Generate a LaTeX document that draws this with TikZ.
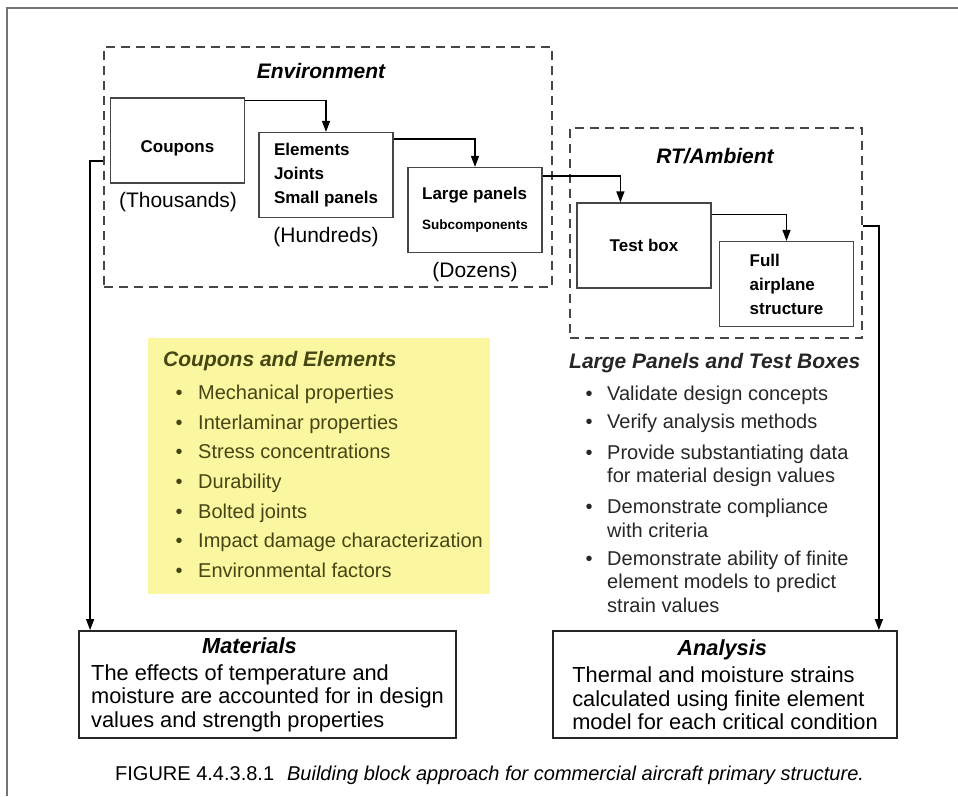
\documentclass[tikz,border=0pt]{standalone}
\usepackage{fontspec}
\setmainfont{Liberation Sans}
\usetikzlibrary{arrows.meta,calc}
\definecolor{boxgray}{RGB}{70,70,70}
\definecolor{notefill}{RGB}{250,247,160}
\definecolor{notetext}{RGB}{70,70,20}

\begin{document}
\begin{tikzpicture}[x=1pt,y=-1pt,
    stage/.style={draw=boxgray, line width=1.2pt, minimum width=134pt, minimum height=85pt,
      inner sep=0pt, align=left, font=\bfseries\fontsize{17}{24}\selectfont},
    zone/.style={draw=boxgray, line width=1.5pt, dash pattern=on 9pt off 6pt, inner sep=0pt},
    heading/.style={font=\bfseries\itshape\fontsize{21}{24}\selectfont},
    count/.style={font=\fontsize{21}{24}\selectfont},
    result/.style={draw=black!85, line width=1.8pt, minimum height=107pt, inner sep=0pt,
      align=left, font=\fontsize{21.8}{23.3}\selectfont},
    feed/.style={line width=1.3pt, -{Triangle[length=11pt,width=8pt]}}]
    \useasboundingbox (0,0) rectangle (958,796);
    \draw[line width=2pt, black!55] (7,796) -- (7,8) -- (958,8);

    % test zones
    \node[zone, minimum width=448pt, minimum height=240pt] (env) at (328,167) {};
    \node[zone, minimum width=292pt, minimum height=210pt] (rt) at (716,233) {};
    \node[heading] (envtitle) at (321,71) {Environment};
    \node[heading] (rttitle) at (715,156) {RT/Ambient};

    % building blocks
    \node[stage, text height=23pt, text depth=0pt] (coupons) at (177.5,140.5) {Coupons};
    \node[stage] (elements) at (326,175) {Elements\\Joints\\Small panels};
    \node[stage] (large) at (475,210) {Large panels\\[6pt]{\fontsize{13.5}{16}\selectfont Subcomponents}};
    \node[stage] (testbox) at (644,245.5) {Test box};
    \node[stage] (full) at (786.5,284) {Full\\airplane\\structure};
    \node[count] (thousands) at (178,202) {(Thousands)};
    \node[count] (hundreds) at (326,237) {(Hundreds)};
    \node[count] (dozens) at (475,272) {(Dozens)};

    \draw[feed] ($(coupons.north east)+(0,3)$) -| (elements.north);
    \draw[feed] ($(elements.north east)+(0,7)$) -| (large.north);
    \draw[feed] ($(large.north east)+(0,9)$) -| ($(testbox.north west)+(44,0)$);
    \draw[feed] ($(testbox.north east)+(0,12)$) -| (full.north);

    % notes
    \node[fill=notefill, minimum width=342pt, minimum height=256pt, inner sep=0pt, text=notetext,
      font=\fontsize{20}{29.6}\selectfont] (coupnotes) at (319,466) {%
      \begin{tabular}{@{\hspace{20.5pt}}l@{\hspace{15.5pt}}l@{}}
        \multicolumn{2}{@{\hspace{8pt}}l@{}}{\bfseries\itshape\fontsize{21}{29.6}\selectfont Coupons and Elements}\\[3.4pt]
        \textbullet & Mechanical properties\\
        \textbullet & Interlaminar properties\\
        \textbullet & Stress concentrations\\
        \textbullet & Durability\\
        \textbullet & Bolted joints\\
        \textbullet & Impact damage characterization\\
        \textbullet & Environmental factors
      \end{tabular}};
    \node[anchor=base west, inner sep=0pt, text=black!85,
      font=\fontsize{20}{23.5}\selectfont] (panelnotes) at (569,368) {%
      \begin{tabular}[t]{@{\hspace{16.5pt}}l@{\hspace{14.5pt}}l@{}}
        \multicolumn{2}{@{}l@{}}{\bfseries\itshape\fontsize{21}{23.5}\selectfont Large Panels and Test Boxes}\\[8.5pt]
        \textbullet & Validate design concepts\\[4.5pt]
        \textbullet & Verify analysis methods\\[7.5pt]
        \textbullet & Provide substantiating data\\
                    & for material design values\\[7.5pt]
        \textbullet & Demonstrate compliance\\
                    & with criteria\\[4.5pt]
        \textbullet & Demonstrate ability of finite\\
                    & element models to predict\\
                    & strain values
      \end{tabular}};

    % results
    \node[result, minimum width=377pt] (materials) at (267.5,684.5) {%
      \hspace*{111pt}\textbf{\textit{Materials}}\\[4.4pt]
      The effects of temperature and\\
      moisture are accounted for in design\\
      values and strength properties};
    \node[result, minimum width=344pt] (analysis) at (725,684.5) {%
      \hspace*{105pt}\textbf{\textit{Analysis}}\\[4.4pt]
      Thermal and moisture strains\\
      calculated using finite element\\
      model for each critical condition};

    \draw[feed] ($(env.west)+(0,-6)$) -| ($(materials.north west)+(12,0)$);
    \draw[feed] ($(rt.east)+(0,-7)$) -| ($(analysis.north east)+(-19,0)$);

    \node[anchor=base west, inner sep=0pt, font=\fontsize{20}{24}\selectfont] (caption) at (115,780)
      {FIGURE 4.4.3.8.1\hspace{13pt}\textit{Building block approach for commercial aircraft primary structure.}};
\end{tikzpicture}
\end{document}
